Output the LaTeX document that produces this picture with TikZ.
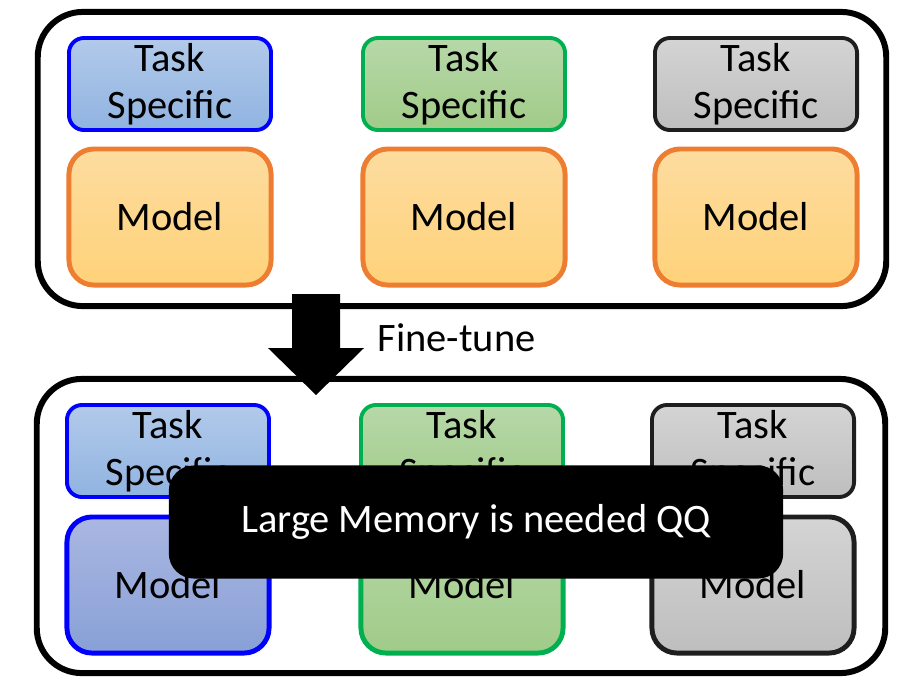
\documentclass[tikz,border=0pt]{standalone}
\usepackage{fontspec}
\setmainfont{Carlito}
\definecolor{cBlue}{HTML}{0000FF}
\definecolor{cOrange}{HTML}{ED7D31}
\definecolor{cGreen}{HTML}{00B050}
\definecolor{cGray}{HTML}{1E1E1E}
\definecolor{cBlueTop}{HTML}{B2CAEA}
\definecolor{cBlueBot}{HTML}{90B3E1}
\definecolor{cOrangeTop}{HTML}{FDDC9F}
\definecolor{cOrangeBot}{HTML}{FFD27A}
\definecolor{cGreenTop}{HTML}{B7D8A9}
\definecolor{cGreenBot}{HTML}{A0CB88}
\definecolor{cGrayTop}{HTML}{D4D4D4}
\definecolor{cGrayBot}{HTML}{BEBEBE}
\definecolor{cModelTop}{HTML}{AAB7E1}
\definecolor{cModelBot}{HTML}{88A0D7}
\usetikzlibrary{positioning}

\begin{document}
\begin{tikzpicture}[x=0.01cm, y=-0.01cm, font=\fontsize{11.5}{13.4}\selectfont,
  frame/.style={draw=black, line width=1.7pt, rounded corners=0.45cm, minimum width=8.48cm, minimum height=2.94cm},
  taskbox/.style={rounded corners=0.15cm, line width=1.1pt, minimum width=2.02cm, minimum height=0.92cm, align=center, inner sep=0pt},
  modelbox/.style={rounded corners=0.25cm, line width=1.4pt, minimum width=2.02cm, minimum height=1.36cm, inner sep=0pt}]
\useasboundingbox (0,0) rectangle (918,690);
% before fine-tuning
\node[frame] (F1) at (462,159) {};
\node[taskbox, draw=cBlue, top color=cBlueTop, bottom color=cBlueBot] (T1) at (170,84) {Task\\Specific};
\node[taskbox, draw=cGreen, top color=cGreenTop, bottom color=cGreenBot] (T2) at (464,84) {Task\\Specific};
\node[taskbox, draw=cGray, top color=cGrayTop, bottom color=cGrayBot] (T3) at (756,84) {Task\\Specific};
\node[modelbox, draw=cOrange, top color=cOrangeTop, bottom color=cOrangeBot] (M1) at (170,217) {Model};
\node[modelbox, draw=cOrange, top color=cOrangeTop, bottom color=cOrangeBot] (M2) at (464,217) {Model};
\node[modelbox, draw=cOrange, top color=cOrangeTop, bottom color=cOrangeBot] (M3) at (756,217) {Model};
% after fine-tuning
\node[frame] (F2) at (461,526) {};
\node[taskbox, draw=cBlue, top color=cBlueTop, bottom color=cBlueBot] (T4) at (168,451) {Task\\Specific};
\node[taskbox, draw=cGreen, top color=cGreenTop, bottom color=cGreenBot] (T5) at (462,451) {Task\\Specific};
\node[taskbox, draw=cGray, top color=cGrayTop, bottom color=cGrayBot] (T6) at (753,451) {Task\\Specific};
\node[modelbox, draw=cBlue, top color=cModelTop, bottom color=cModelBot] (M4) at (168,585) {Model};
\node[modelbox, draw=cGreen, top color=cGreenTop, bottom color=cGreenBot] (M5) at (462,585) {Model};
\node[modelbox, draw=cGray, top color=cGrayTop, bottom color=cGrayBot] (M6) at (753,585) {Model};
% block arrow
\fill[black] (292,294) -- (340,294) -- (340,348) -- (364,348) -- (316,395) -- (268,348) -- (292,348) -- cycle;
\node[anchor=west, inner sep=0pt] (FT) at (377,338) {Fine-tune};
\node[fill=black, text=white, rounded corners=0.25cm, minimum width=6.14cm, minimum height=1.13cm] (Q) at (476,522) {Large Memory is needed QQ};
\end{tikzpicture}
\end{document}
